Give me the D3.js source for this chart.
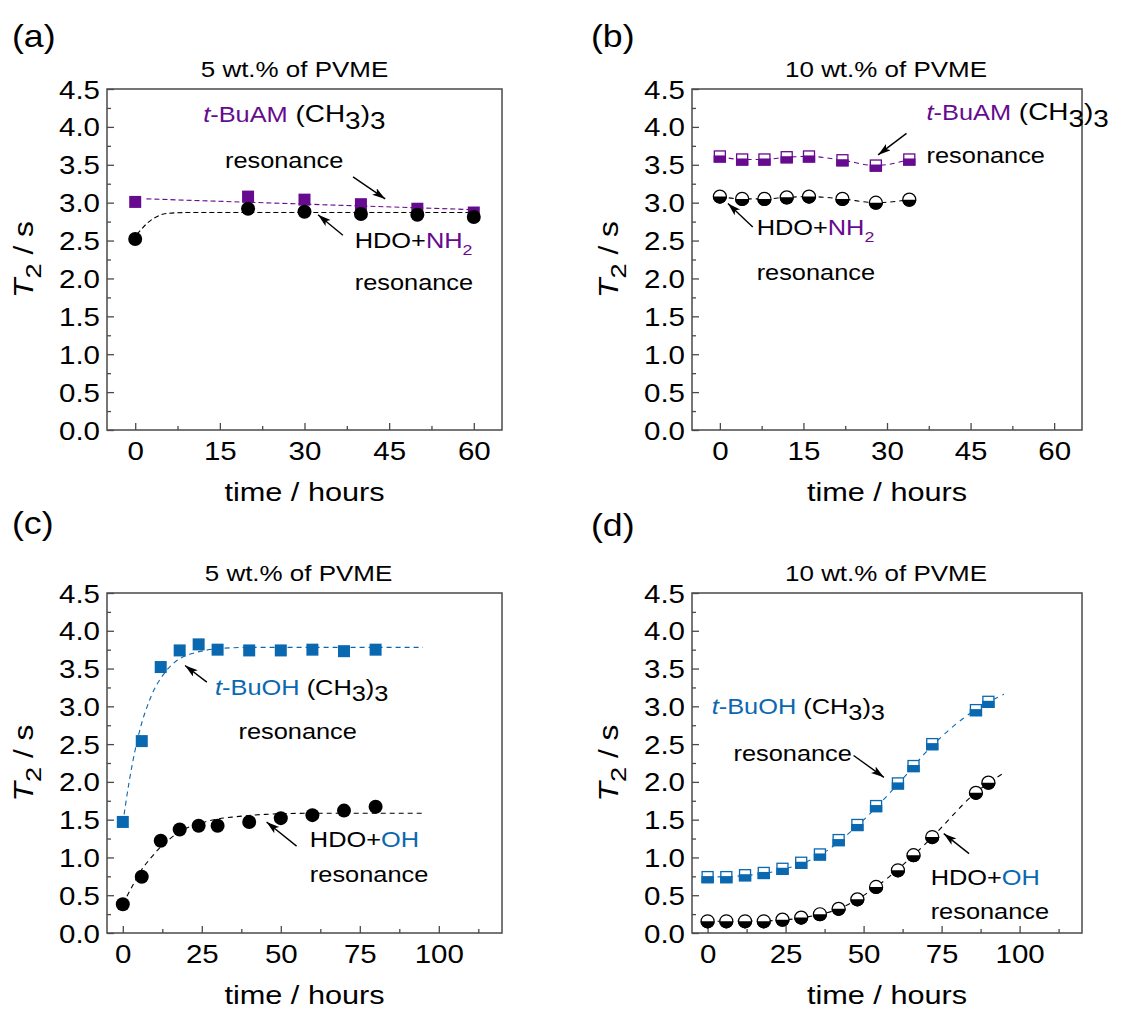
<!DOCTYPE html>
<html>
<head>
<meta charset="utf-8">
<script src="https://cdn.jsdelivr.net/npm/d3@7"></script>
<style>
  body { margin: 0; background: #fff; }
  svg { display: block; }
  text { font-family: "Liberation Sans", Arial, sans-serif; }
</style>
</head>
<body>
<svg id="chart" width="1128" height="1010"></svg>
<script>
const purple = "#660a8f";
const blue = "#0a68b0";
const frameColor = "#4a4a4a";
const sx = 1.18; // glyphs in the figure are a bit wide

// (a) 5 wt.% PVME, t-BuAM
const hoursA = [0, 20, 30, 40, 50, 60];
const buamA = [3.01, 3.08, 3.04, 2.98, 2.92, 2.87];
const hdoA = [2.52, 2.92, 2.88, 2.85, 2.84, 2.81];
const fitBuamA = [[2, 3.05], [59, 2.91]];
const fitHdoA = [[0.3, 2.58], [1, 2.64], [2, 2.72], [3, 2.78], [4, 2.82], [5, 2.85], [7, 2.865], [10, 2.87], [60, 2.87]];

// (b) 10 wt.% PVME, t-BuAM
const hoursB = [0, 4, 8, 12, 16, 22, 28, 34];
const buamB = [3.61, 3.57, 3.57, 3.60, 3.61, 3.56, 3.49, 3.57];
const hdoB = [3.08, 3.05, 3.05, 3.07, 3.08, 3.05, 3.00, 3.04];

// (c) 5 wt.% PVME, t-BuOH
const hoursC = [0, 6, 12, 18, 24, 30, 40, 50, 60, 70, 80];
const buohC = [1.47, 2.54, 3.52, 3.74, 3.82, 3.75, 3.74, 3.74, 3.75, 3.73, 3.75];
const hdoC = [0.38, 0.745, 1.22, 1.37, 1.42, 1.42, 1.47, 1.52, 1.56, 1.62, 1.67];
const fitBuohC = [[0, 1.45], [2, 2.0], [4, 2.44], [6, 2.78], [8, 3.03], [10, 3.23], [12, 3.37], [15, 3.53], [18, 3.63], [22, 3.70], [26, 3.74], [32, 3.77], [40, 3.78], [95, 3.78]];
const fitHdoC = [[0, 0.38], [3, 0.62], [6, 0.84], [9, 1.0], [12, 1.14], [15, 1.25], [18, 1.34], [22, 1.42], [26, 1.47], [30, 1.51], [36, 1.54], [45, 1.57], [60, 1.585], [95, 1.585]];

// (d) 10 wt.% PVME, t-BuOH
const hoursD = [0, 6, 12, 18, 24, 30, 36, 42, 48, 54, 61, 66, 72, 86, 90];
const buohD = [0.74, 0.74, 0.765, 0.795, 0.85, 0.93, 1.04, 1.23, 1.43, 1.68, 1.98, 2.21, 2.50, 2.95, 3.06];
const hdoD = [0.155, 0.155, 0.155, 0.155, 0.177, 0.204, 0.248, 0.32, 0.446, 0.61, 0.83, 1.03, 1.27, 1.855, 1.99];
const fitBuohD = [[0, 0.74], [12, 0.76], [24, 0.84], [36, 1.03], [48, 1.42], [61, 1.97], [72, 2.48], [86, 2.96], [95, 3.16]];
const fitHdoD = [[0, 0.155], [18, 0.16], [30, 0.2], [42, 0.32], [54, 0.61], [66, 1.03], [72, 1.27], [86, 1.86], [95, 2.12]];

const yTicks = [0, 0.5, 1, 1.5, 2, 2.5, 3, 3.5, 4, 4.5];
const yMinor = [0.25, 0.75, 1.25, 1.75, 2.25, 2.75, 3.25, 3.75, 4.25];
const xTicksShort = [0, 15, 30, 45, 60];
const xMinorShort = [7.5, 22.5, 37.5, 52.5];
const xTicksLong = [0, 25, 50, 75, 100];
const xMinorLong = [12.5, 37.5, 62.5, 87.5, 112.5];

const svg = d3.select("#chart");

// arrow head
svg.append("defs").append("marker")
  .attr("id", "arrow")
  .attr("markerUnits", "userSpaceOnUse")
  .attr("markerWidth", 14).attr("markerHeight", 10)
  .attr("refX", 13).attr("refY", 4)
  .attr("orient", "auto")
  .append("path")
  .attr("d", "M0,0 L13,4 L0,8 L3,4 Z")
  .attr("fill", "#000");

// text with tspans; parts: {s, c, i, sub, k}
function richText(g, x, y, parts, size, anchor = "start", extra = "") {
  const t = g.append("text")
    .attr("transform", `translate(${x},${y}) ${extra} scale(${sx},1)`)
    .attr("font-size", size)
    .attr("text-anchor", anchor);
  let shift = 0;
  parts.forEach(p => {
    const ts = t.append("tspan").text(p.s).attr("fill", p.c || "#000");
    if (p.i) ts.attr("font-style", "italic");
    const want = p.sub ? size * 0.3 : 0;
    if (want !== shift) ts.attr("dy", want - shift);
    shift = want;
    const k = (p.k || 1) * (p.sub || 1);
    if (k !== 1) ts.attr("font-size", size * k);
  });
  return t;
}

function arrow(g, x1, y1, x2, y2) {
  g.append("line")
    .attr("x1", x1).attr("y1", y1).attr("x2", x2).attr("y2", y2)
    .attr("stroke", "#000").attr("stroke-width", 1.4)
    .attr("marker-end", "url(#arrow)");
}

function panel(o) {
  const g = svg.append("g");
  const x = d3.scaleLinear().domain(o.xDomain).range([o.left, o.left + o.w]);
  const y = d3.scaleLinear().domain([0, 4.5]).range([o.top + o.h, o.top]);
  const bottom = o.top + o.h;

  g.append("rect")
    .attr("x", o.left).attr("y", o.top).attr("width", o.w).attr("height", o.h)
    .attr("fill", "none").attr("stroke", frameColor).attr("stroke-width", 1.5);

  const styleAxis = s => {
    s.select(".domain").remove();
    s.attr("font-family", null).attr("font-size", 25).style("color", frameColor);
    s.selectAll("line").attr("stroke-width", 1.3);
    s.selectAll("text").attr("fill", "#000");
  };

  // minor ticks
  g.append("g").attr("transform", `translate(0,${bottom})`)
    .call(d3.axisBottom(x).tickValues(o.xMinor).tickSize(-4).tickFormat(""))
    .call(styleAxis);
  g.append("g").attr("transform", `translate(${o.left},0)`)
    .call(d3.axisLeft(y).tickValues(yMinor).tickSize(-4).tickFormat(""))
    .call(styleAxis);

  // major ticks
  g.append("g").attr("transform", `translate(0,${bottom})`)
    .call(d3.axisBottom(x).tickValues(o.xTicks).tickSize(-7).tickFormat(d3.format("d")))
    .call(styleAxis)
    .call(s => s.selectAll("text").attr("y", 0).attr("dy", null)
      .attr("transform", `translate(0,30) scale(${sx},1)`));
  g.append("g").attr("transform", `translate(${o.left},0)`)
    .call(d3.axisLeft(y).tickValues(yTicks).tickSize(-7).tickFormat(d3.format(".1f")))
    .call(styleAxis)
    .call(s => s.selectAll("text").attr("x", 0).attr("dy", null)
      .attr("transform", `translate(-7,9) scale(${sx},1)`));

  // titles and axis labels
  richText(g, o.left + o.w / 2 + o.titleDx, o.top - 12, [{ s: o.title }], 22, "middle");
  richText(g, o.left + o.w / 2, bottom + 71, [{ s: "time / hours" }], 26, "middle");
  richText(g, o.left - 74, o.top + o.h / 2,
    [{ s: "T", i: true }, { s: "2", sub: 0.85 }, { s: " / s" }], 27, "middle", "rotate(-90)");
  g.append("text")
    .attr("transform", `translate(${o.letterX},${o.letterY}) scale(1.15,1)`)
    .attr("font-family", "'Open Sans', 'Noto Sans', sans-serif")
    .attr("font-size", 31)
    .text(o.letter);

  return { g, x, y };
}

function dashedLine(p, pts, color, dash) {
  p.g.append("path")
    .datum(pts)
    .attr("d", d3.line().x(d => p.x(d[0])).y(d => p.y(d[1])).curve(d3.curveMonotoneX))
    .attr("fill", "none").attr("stroke", color)
    .attr("stroke-width", 1.1).attr("stroke-dasharray", dash);
}

function filledSquares(p, xs, ys, color) {
  p.g.append("g").selectAll("rect").data(xs).join("rect")
    .attr("x", (d, i) => p.x(d) - 6).attr("y", (d, i) => p.y(ys[i]) - 6)
    .attr("width", 12).attr("height", 12).attr("fill", color);
}

function filledCircles(p, xs, ys) {
  p.g.append("g").selectAll("circle").data(xs).join("circle")
    .attr("cx", d => p.x(d)).attr("cy", (d, i) => p.y(ys[i]))
    .attr("r", 7).attr("fill", "#000");
}

function halfSquares(p, xs, ys, color) {
  const gg = p.g.append("g").selectAll("g").data(xs).join("g")
    .attr("transform", (d, i) => `translate(${p.x(d)},${p.y(ys[i])})`);
  gg.append("rect").attr("x", -5.5).attr("y", -5.5).attr("width", 11).attr("height", 11)
    .attr("fill", "#fff").attr("stroke", color).attr("stroke-width", 1.3);
  gg.append("rect").attr("x", -6.2).attr("y", -1).attr("width", 12.4).attr("height", 7.2)
    .attr("fill", color);
}

function halfCircles(p, xs, ys) {
  const r = 6.5;
  const gg = p.g.append("g").selectAll("g").data(xs).join("g")
    .attr("transform", (d, i) => `translate(${p.x(d)},${p.y(ys[i])})`);
  gg.append("circle").attr("r", r).attr("fill", "#fff").attr("stroke", "#000").attr("stroke-width", 1.2);
  gg.append("path").attr("d", `M${-r - 0.6},0 A${r + 0.6},${r + 0.6} 0 0 0 ${r + 0.6},0 Z`).attr("fill", "#000");
}

const ann = 21.5;
const ch3 = k => [{ s: " (CH", k }, { s: "3", sub: 1, k }, { s: ")", k }, { s: "3", sub: 1, k }];

// ---------- (a) ----------
const pa = panel({ left: 107, top: 89, w: 395, h: 341, xDomain: [-5, 65],
  xTicks: xTicksShort, xMinor: xMinorShort, title: "5 wt.% of PVME", titleDx: -10,
  letter: "(a)", letterX: 12, letterY: 47 });
dashedLine(pa, fitBuamA, purple, "5,3");
dashedLine(pa, fitHdoA, "#000", "5,3");
filledSquares(pa, hoursA, buamA, purple);
filledCircles(pa, hoursA, hdoA);
richText(pa.g, pa.x(12.05), pa.y(4.06),
  [{ s: "t", c: purple, i: true }, { s: "-BuAM", c: purple }, ...ch3(1.1)], ann);
richText(pa.g, pa.x(15.9), pa.y(3.46), [{ s: "resonance" }], ann);
arrow(pa.g, pa.x(38.6), pa.y(3.34), pa.x(44.3), pa.y(3.05));
arrow(pa.g, pa.x(36.8), pa.y(2.57), pa.x(32.4), pa.y(2.84));
richText(pa.g, pa.x(38.9), pa.y(2.40),
  [{ s: "HDO+" }, { s: "NH", c: purple }, { s: "2", c: purple, sub: 0.7 }], ann);
richText(pa.g, pa.x(38.9), pa.y(1.85), [{ s: "resonance" }], ann);

// ---------- (b) ----------
const pb = panel({ left: 692, top: 89, w: 390, h: 341, xDomain: [-5, 65],
  xTicks: xTicksShort, xMinor: xMinorShort, title: "10 wt.% of PVME", titleDx: -1,
  letter: "(b)", letterX: 591, letterY: 47 });
dashedLine(pb, hoursB.map((d, i) => [d, buamB[i]]), purple, "5,4");
dashedLine(pb, hoursB.map((d, i) => [d, hdoB[i]]), "#000", "5,4");
halfSquares(pb, hoursB, buamB, purple);
halfCircles(pb, hoursB, hdoB);
richText(pb.g, pb.x(37.1), pb.y(4.09),
  [{ s: "t", c: purple, i: true }, { s: "-BuAM", c: purple }, ...ch3(1.1)], ann);
richText(pb.g, pb.x(37.1), pb.y(3.52), [{ s: "resonance" }], ann);
arrow(pb.g, pb.x(33.5), pb.y(3.915), pb.x(28.4), pb.y(3.63));
arrow(pb.g, pb.x(5.9), pb.y(2.68), pb.x(1.45), pb.y(2.99));
richText(pb.g, pb.x(6.6), pb.y(2.57),
  [{ s: "HDO+" }, { s: "NH", c: purple }, { s: "2", c: purple, sub: 0.7 }], ann);
richText(pb.g, pb.x(6.6), pb.y(1.98), [{ s: "resonance" }], ann);

// ---------- (c) ----------
const pc = panel({ left: 107, top: 593, w: 395, h: 340, xDomain: [-5, 120],
  xTicks: xTicksLong, xMinor: xMinorLong, title: "5 wt.% of PVME", titleDx: -6,
  letter: "(c)", letterX: 12, letterY: 534 });
dashedLine(pc, fitBuohC, blue, "5,4");
dashedLine(pc, fitHdoC, "#000", "5,4");
filledSquares(pc, hoursC, buohC, blue);
filledCircles(pc, hoursC, hdoC);
richText(pc.g, pc.x(29.2), pc.y(3.15),
  [{ s: "t", c: blue, i: true }, { s: "-BuOH", c: blue }, ...ch3(1)], ann);
arrow(pc.g, pc.x(26.6), pc.y(3.32), pc.x(19.7), pc.y(3.54));
richText(pc.g, pc.x(36.6), pc.y(2.57), [{ s: "resonance" }], ann);
richText(pc.g, pc.x(59.2), pc.y(1.14), [{ s: "HDO+" }, { s: "OH", c: blue }], ann);
arrow(pc.g, pc.x(55.0), pc.y(1.15), pc.x(45.5), pc.y(1.47));
richText(pc.g, pc.x(59.2), pc.y(0.675), [{ s: "resonance" }], ann);

// ---------- (d) ----------
const pd = panel({ left: 692, top: 593, w: 390, h: 340, xDomain: [-5, 120],
  xTicks: xTicksLong, xMinor: xMinorLong, title: "10 wt.% of PVME", titleDx: -1,
  letter: "(d)", letterX: 591, letterY: 536 });
dashedLine(pd, fitBuohD, blue, "5,5");
dashedLine(pd, fitHdoD, "#000", "5,5");
halfSquares(pd, hoursD, buohD, blue);
halfCircles(pd, hoursD, hdoD);
richText(pd.g, pd.x(1.3), pd.y(2.90),
  [{ s: "t", c: blue, i: true }, { s: "-BuOH", c: blue }, ...ch3(1)], ann);
richText(pd.g, pd.x(8.3), pd.y(2.275), [{ s: "resonance" }], ann);
arrow(pd.g, pd.x(46.8), pd.y(2.35), pd.x(56.5), pd.y(2.06));
richText(pd.g, pd.x(71.5), pd.y(0.63), [{ s: "HDO+" }, { s: "OH", c: blue }], ann);
arrow(pd.g, pd.x(83.8), pd.y(1.05), pd.x(75.7), pd.y(1.315));
richText(pd.g, pd.x(71.5), pd.y(0.19), [{ s: "resonance" }], ann);
</script>
</body>
</html>
